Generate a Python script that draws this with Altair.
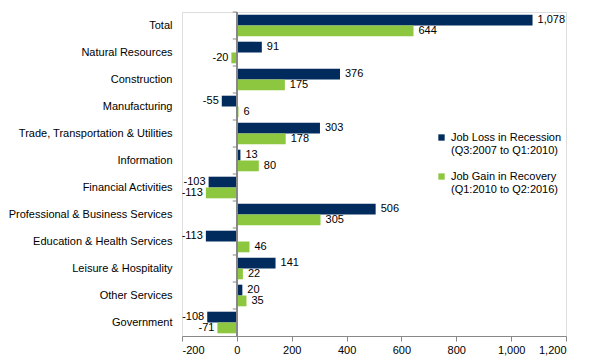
import altair as alt
import pandas as pd

categories = ["Total", "Natural Resources", "Construction", "Manufacturing",
              "Trade, Transportation & Utilities", "Information", "Financial Activities",
              "Professional & Business Services", "Education & Health Services",
              "Leisure & Hospitality", "Other Services", "Government"]
loss = [1078, 91, 376, -55, 303, 13, -103, 506, -113, 141, 20, -108]
gain = [644, -20, 175, 6, 178, 80, -113, 305, 46, 22, 35, -71]
series = ["Job Loss in Recession|(Q3:2007 to Q1:2010)",
          "Job Gain in Recovery|(Q1:2010 to Q2:2016)"]
colors = ["#002b5c", "#8dc63f"]
x_ticks = [-200, 0, 200, 400, 600, 800, 1000, 1200]

rows = []
for c, l, g in zip(categories, loss, gain):
    for s, v in zip(series, [l, g]):
        rows.append({"cat": c, "series": s, "value": v, "label": f"{v:,}"})
df = pd.DataFrame(rows)
cat_df = pd.DataFrame({"cat": categories})

FONT = "Liberation Sans"

y_enc = alt.Y("cat:N", sort=categories,
              scale=alt.Scale(paddingInner=0, paddingOuter=0),
              axis=alt.Axis(title=None, domain=False, ticks=False, labelPadding=10,
                            labelFontSize=11, labelColor="#000000", labelFont=FONT,
                            labelLimit=300))
yoff = alt.YOffset("series:N", sort=series, scale=alt.Scale(paddingInner=0, paddingOuter=0.25))
x_scale = alt.Scale(domain=[-200, 1200], nice=False)

bars = alt.Chart(df).mark_bar().encode(
    y=y_enc,
    yOffset=yoff,
    x=alt.X("value:Q", scale=x_scale,
            axis=alt.Axis(title=None, values=x_ticks, grid=False,
                          labelExpr="datum.value < 0 ? '-' + format(-datum.value, ',d') : format(datum.value, ',d')",
                          domainColor="#888888", tickColor="#888888", tickSize=5,
                          labelFontSize=11, labelColor="#000000", labelFont=FONT,
                          labelPadding=3)),
    color=alt.Color("series:N", sort=series,
                    scale=alt.Scale(domain=series, range=colors),
                    legend=alt.Legend(title=None, orient="none", legendX=254, legendY=120,
                                      symbolType="square", symbolSize=40,
                                      labelExpr="split(datum.label, '|')",
                                      labelFontSize=11, labelFont=FONT,
                                      labelColor="#000000", rowPadding=14,
                                      labelLimit=300, symbolStrokeWidth=0)),
)

pos_text = alt.Chart(df).transform_filter("datum.value >= 0").mark_text(
    align="left", dx=5, fontSize=11, font=FONT, color="#000000").encode(
    y=alt.Y("cat:N", sort=categories), yOffset=yoff,
    x=alt.X("value:Q", scale=x_scale), text="label:N")

neg_text = alt.Chart(df).transform_filter("datum.value < 0").mark_text(
    align="right", dx=-3, fontSize=11, font=FONT, color="#000000").encode(
    y=alt.Y("cat:N", sort=categories), yOffset=yoff,
    x=alt.X("value:Q", scale=x_scale), text="label:N")

zero_rule = alt.Chart(cat_df).mark_rule(color="#888888", strokeWidth=1).encode(
    x=alt.datum(0))

zero_ticks = alt.Chart(cat_df).mark_rule(color="#888888", strokeWidth=1).encode(
    y=alt.Y("cat:N", sort=categories, bandPosition=0),
    x=alt.datum(0), x2=alt.datum(-15))

chart = alt.layer(bars, zero_rule, zero_ticks, pos_text, neg_text).properties(
    width=384, height=324,
    autosize=alt.AutoSizeParams(type="none"),
    padding={"left": 174, "top": 4, "right": 5, "bottom": 26},
).configure_view(stroke=None).configure(background="white")

chart.save("out.html", embed_options={"renderer": "svg", "actions": False})
